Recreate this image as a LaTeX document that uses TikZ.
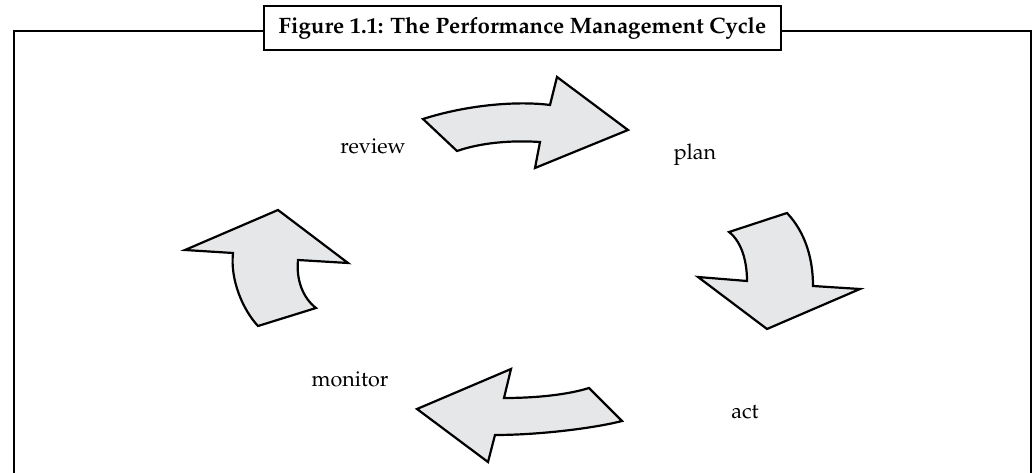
\documentclass[tikz,border=0pt]{standalone}
\usepackage[T1]{fontenc}
\usepackage{mathpazo}
\definecolor{arrowfill}{HTML}{E6E7E8}

\begin{document}
\begin{tikzpicture}[x=1pt, y=-1pt,
		a/.style={draw, fill=arrowfill, line width=2.2pt, line join=miter},
		l/.style={font=\fontsize{21.5}{26}\selectfont},
		t/.style={draw, line width=2.4pt, minimum width=517pt, minimum height=44pt, font=\fontsize{22.3}{26}\selectfont\bfseries}]
		\useasboundingbox (0,0) rectangle (1034,473);

		\node[t] (title) at (522.5,28) {Figure 1.1: The Performance Management Cycle};
		\draw[line width=2pt] (title.west |- 0,31) -- (14,31) -- (14,475);
		\draw[line width=2pt] (title.east |- 0,31) -- (1031,31) -- (1031,475);

		\node[l] (review) at (373,146) {review};
		\node[l] (plan) at (695,155) {plan};
		\node[l] (act) at (745,412) {act};
		\node[l] (monitor) at (350,379) {monitor};

		\path[a] (423,119) .. controls (470,104) and (520,101) .. (550,105) -- (557,77) -- (628,130) -- (535,168) -- (540,142) .. controls (510,140) and (480,143) .. (457,151) -- cycle;
		\path[a] (729,232) -- (787,213) .. controls (805,232) and (813,258) .. (813,286) -- (860,289) -- (767,329) -- (698,277) -- (747,281) .. controls (747,262) and (742,242) .. cycle;
		\path[a] (589,388) -- (622,421) .. controls (595,428) and (540,435) .. (495,435) -- (488,462) -- (417,409) -- (511,369) -- (504,398) .. controls (540,398) and (570,394) .. cycle;
		\path[a] (258,326) .. controls (243,310) and (230,280) .. (233,253) -- (185,250) -- (278,210) -- (348,263) -- (298,260) .. controls (296,280) and (303,298) .. (316,308) -- cycle;
	\end{tikzpicture}
\end{document}
